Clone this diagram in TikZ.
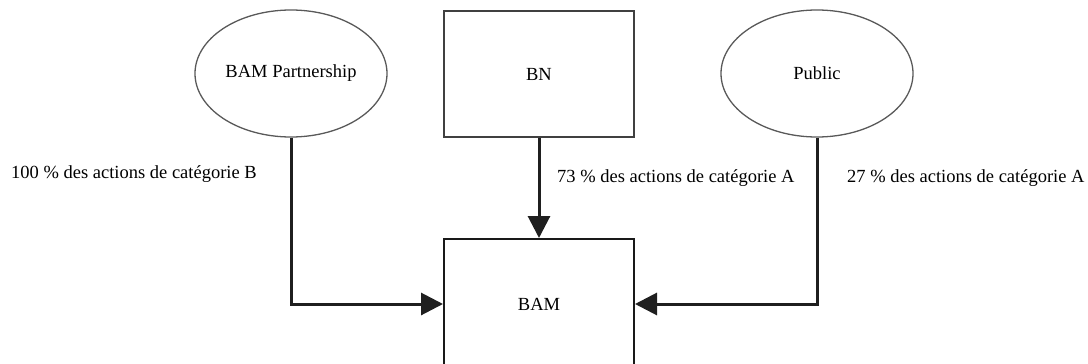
\documentclass[tikz,border=0pt]{standalone}
\usepackage{fontspec}
\setmainfont{Liberation Serif}
\usetikzlibrary{shapes.geometric,arrows.meta}
\begin{document}
\begin{tikzpicture}[x=1pt,y=-1pt,
  every node/.style={font=\fontsize{18.5}{22}\selectfont},
  ent/.style={ellipse,draw=black!65,line width=1.3pt,minimum width=192pt,minimum height=127pt,inner sep=0pt},
  box/.style={rectangle,draw=black!75,line width=1.3pt,minimum width=190pt,minimum height=126pt,inner sep=0pt},
  lbl/.style={anchor=base west,inner sep=0pt},
  flow/.style={line width=3pt,draw=black!88,-{Triangle[length=22pt,width=22pt]}}]
\useasboundingbox (0,0) rectangle (1088,364);
\node[ent] (bp) at (291,73.5) {BAM Partnership};
\node[box] (bn) at (539,74) {BN};
\node[ent] (pub) at (817,73.5) {Public};
\node[box,draw=black!90,line width=2pt,minimum height=130pt] (bam) at (539,304) {BAM};
\draw[flow] (bp.south) |- (bam.west);
\draw[flow] (bn.south) -- (bam.north);
\draw[flow] (pub.south) |- (bam.east);
\node[lbl] (l1) at (11,178) {100 \% des actions de catégorie B};
\node[lbl] (l2) at (557,182) {73 \% des actions de catégorie A};
\node[lbl] (l3) at (847,182) {27 \% des actions de catégorie A};
\end{tikzpicture}
\end{document}
